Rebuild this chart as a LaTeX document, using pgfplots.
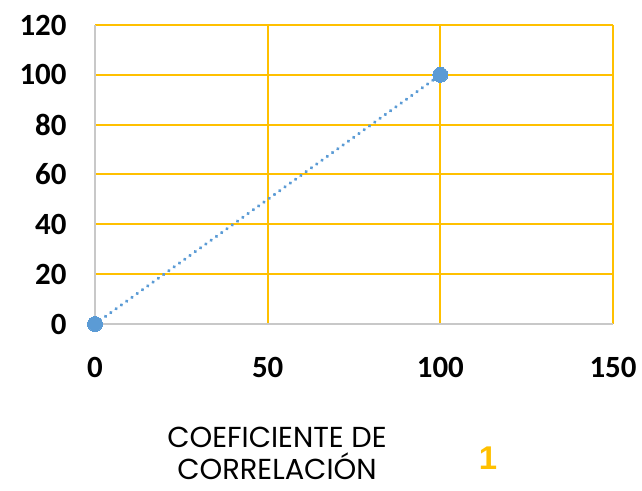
\documentclass[border=0pt]{standalone}
\usepackage{pgfplots}
\pgfplotsset{compat=1.18}
\usepackage{fontspec}
\setmainfont{Carlito}
\newfontfamily\titlefont{Poppins}
\newfontfamily\arialfont{Liberation Sans}
\definecolor{gridgold}{HTML}{FFC000}
\definecolor{axgray}{HTML}{C8C8C8}
\definecolor{ptblue}{HTML}{5B9BD5}
\begin{document}
\begin{tikzpicture}
\useasboundingbox (0,0) rectangle (642bp,491bp);
\begin{axis}[
  at={(95bp,167bp)}, anchor=south west,
  scale only axis, width=518bp, height=299bp,
  xmin=0, xmax=150, ymin=0, ymax=120,
  xtick={0,50,100,150}, ytick={0,20,40,60,80,100,120},
  axis lines=left, axis line style={-, color=axgray, line width=1.6bp},
  major tick length=0pt,
  grid=major, major grid style={color=gridgold, line width=2bp},
  ticklabel style={font=\fontsize{31}{33}\selectfont\bfseries},
  /pgf/number format/assume math mode=true,
  xticklabel style={yshift=-30bp},
  yticklabel style={xshift=-25bp},
  clip=false,
]
\addplot[color=ptblue, line width=3.6bp, dash pattern=on 0.01bp off 6.5bp, line cap=round,
  mark=*, mark size=7.5bp, mark options={solid, fill=ptblue, draw=ptblue, line width=0pt}]
  coordinates {(0,0) (100,100)};
\end{axis}
\node[align=center, font=\titlefont\fontsize{29}{32}\selectfont, inner sep=0pt] at (277bp,38bp) {COEFICIENTE DE\\CORRELACIÓN};
\node[font=\arialfont\bfseries\fontsize{33}{36}\selectfont, color=gridgold, inner sep=0pt] at (488bp,33bp) {1};
\end{tikzpicture}
\end{document}
